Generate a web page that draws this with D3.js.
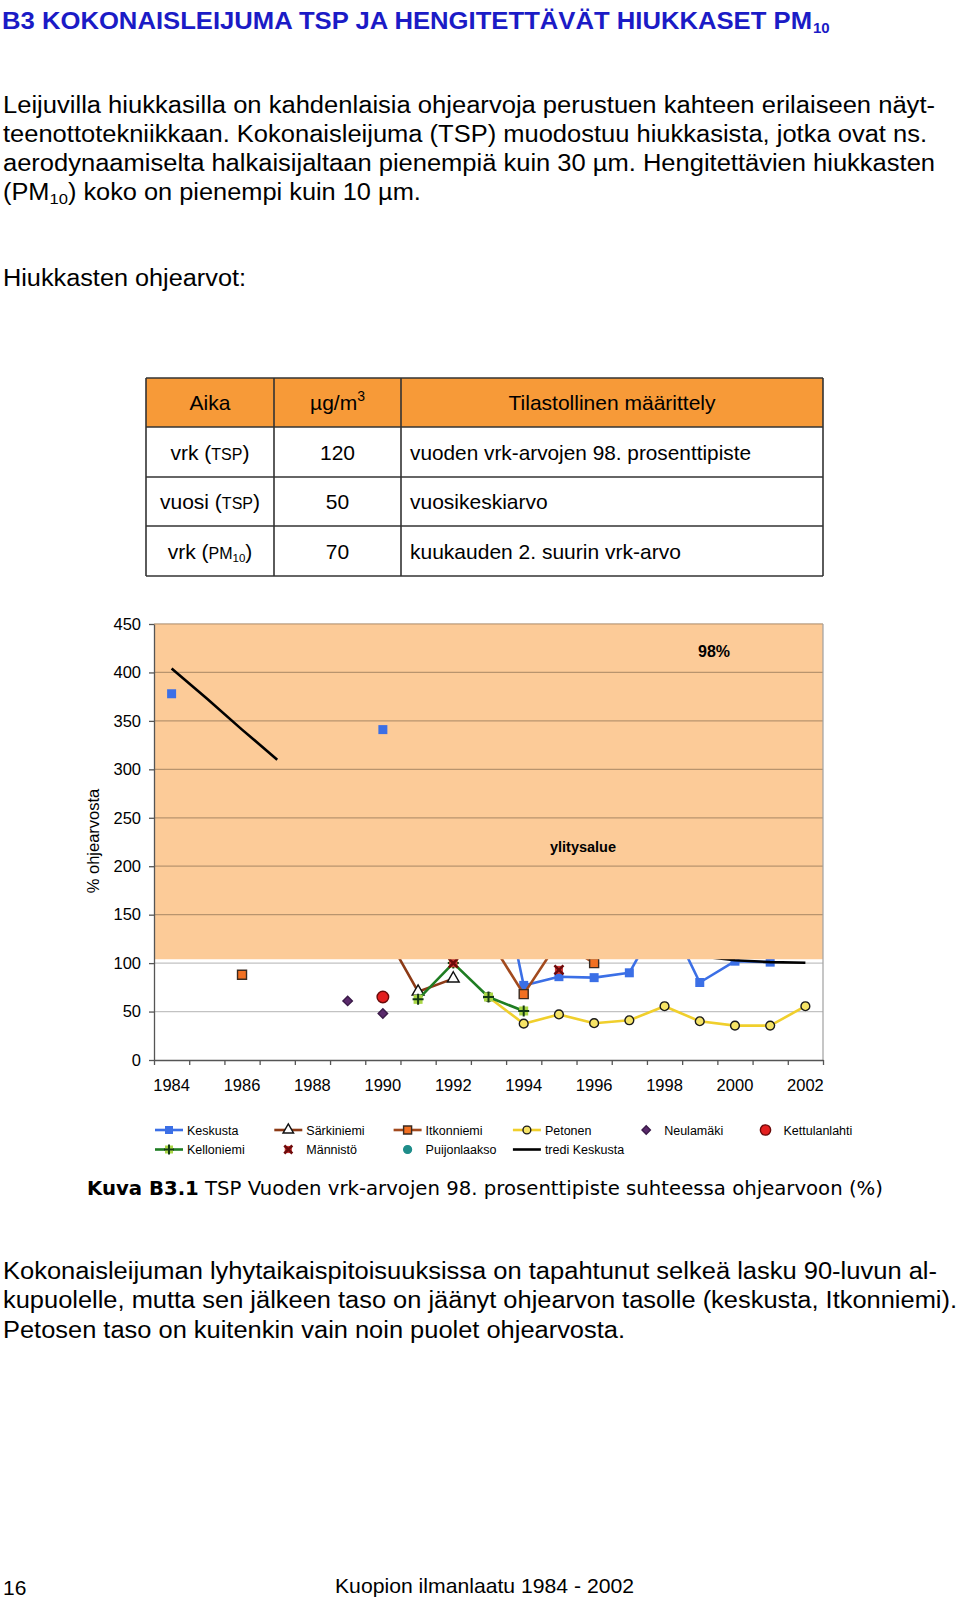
<!DOCTYPE html>
<html><head><meta charset="utf-8">
<script src="https://cdn.jsdelivr.net/npm/d3@7/dist/d3.min.js"></script>
<style>
body{margin:0;background:#fff}
svg{display:block}
text{font-family:"Liberation Sans",Arial,Helvetica,sans-serif;fill:#000}
</style>
</head><body>
<svg id="c" width="960" height="1602"></svg>
<script>
// ---------- data ----------
const years = [1984,1985,1986,1987,1988,1989,1990,1991,1992,1993,1994,1995,1996,1997,1998,1999,2000,2001,2002];
const yearLabels = ["1984","1986","1988","1990","1992","1994","1996","1998","2000","2002"];
const yTicks = [0,50,100,150,200,250,300,350,400,450];
const keskusta      = [378,null,null,null,null,null,341,null,null,250,77,86,85,90,155,80,102,101,null];
const sarkiniemi    = [null,null,null,null,null,null,135,70.5,84,null,null,null,null,null,null,null,null,null,null];
const itkonniemi    = [null,null,88,null,null,null,null,null,null,126,68,123,100,null,null,null,null,null,null];
const petonen       = [null,null,null,null,null,null,null,null,null,65,37.5,47,38,41,55.5,40,35.5,35.5,55.5];
const neulamaki     = [null,null,null,null,null,61,48,null,null,null,null,null,null,null,null,null,null,null,null];
const kettulanlahti = [null,null,null,null,null,null,65,null,null,null,null,null,null,null,null,null,null,null,null];
const kelloniemi    = [null,null,null,null,null,null,null,62.6,100,65,50.6,null,null,null,null,null,null,null,null];
const mannisto      = [null,null,null,null,null,null,null,null,100,null,null,93,null,null,null,null,null,null,null];
const puijonlaakso  = [null,null,null,null,null,null,null,null,null,null,null,null,null,null,null,null,null,null,null];
const trendKeskusta = [404,373,341,310,282,256,232,210,190,172,157,144,133,123,115,107,103,101,100.4];
const trendYearsOnTop = [1984,1985,1986,1987];
const exceedFrom = 104; // lower edge of the "ylitysalue" shading (% of guideline)

const seriesNames = ["Keskusta","Särkiniemi","Itkonniemi","Petonen","Neulamäki","Kettulanlahti","Kelloniemi","Männistö","Puijonlaakso","tredi Keskusta"];
const seriesValues = [keskusta,sarkiniemi,itkonniemi,petonen,neulamaki,kettulanlahti,kelloniemi,mannisto,puijonlaakso,trendKeskusta];

const tableHead = ["Aika","µg/m","Tilastollinen määrittely"];
const tablePeriod = [["vrk","TSP",""],["vuosi","TSP",""],["vrk","PM","10"]];
const tableValue = ["120","50","70"];
const tableDef = ["vuoden vrk-arvojen 98. prosenttipiste","vuosikeskiarvo","kuukauden 2. suurin vrk-arvo"];

// ---------- styles ----------
const styles = {
  "Keskusta":      {line:"#3b6fe6", marker:"square", fill:"#3b6fe6", stroke:"#3b6fe6"},
  "Särkiniemi":    {line:"#8c3a16", marker:"triangle", fill:"#ffffff", stroke:"#111"},
  "Itkonniemi":    {line:"#a24a1e", marker:"square", fill:"#f27022", stroke:"#3a2a20"},
  "Petonen":       {line:"#f0cf2c", marker:"circle", fill:"#f6e467", stroke:"#1a1a1a"},
  "Neulamäki":     {line:null, marker:"diamond", fill:"#5a2a6c", stroke:"#3a1a48"},
  "Kettulanlahti": {line:null, marker:"bigcircle", fill:"#e41f1f", stroke:"#6a0a0a"},
  "Kelloniemi":    {line:"#1f7d22", marker:"plus", fill:"#a9d645", stroke:"#143a14"},
  "Männistö":      {line:null, marker:"cross", fill:"#d23a3a", stroke:"#6e0b0b"},
  "Puijonlaakso":  {line:null, marker:"circle", fill:"#1f8d8a", stroke:"#1f8d8a"},
  "tredi Keskusta":{line:"#000000", marker:null}
};

const svg = d3.select("#c");

function fitGroup(g, textSel, x0, y0, width) {
  const w = textSel.node().getComputedTextLength();
  g.attr("transform", `translate(${x0},${y0}) scale(${width / w},1)`);
}

// ---------- title & text ----------
svg.append("text").attr("x",2).attr("y",29)
  .attr("font-size",24).attr("font-weight","bold").style("fill","#1b1bc6")
  .attr("textLength",810).attr("lengthAdjust","spacingAndGlyphs")
  .text("B3 KOKONAISLEIJUMA TSP JA HENGITETTÄVÄT HIUKKASET PM");
svg.append("text").attr("x",813).attr("y",33)
  .attr("font-size",15).attr("font-weight","bold").style("fill","#1b1bc6").text("10");

const para = [
  {t:"Leijuvilla hiukkasilla on kahdenlaisia ohjearvoja perustuen kahteen erilaiseen näyt-", y:113, w:932},
  {t:"teenottotekniikkaan. Kokonaisleijuma (TSP) muodostuu hiukkasista, jotka ovat ns.", y:142, w:924},
  {t:"aerodynaamiselta halkaisijaltaan pienempiä kuin 30 µm. Hengitettävien hiukkasten", y:171, w:932},
  {t:"Hiukkasten ohjearvot:", y:286, w:243}
];
para.forEach(p => svg.append("text").attr("x",3).attr("y",p.y).attr("font-size",23)
  .attr("textLength",p.w).attr("lengthAdjust","spacingAndGlyphs").text(p.t));
const l4g = svg.append("g");
const l4 = l4g.append("text").attr("x",0).attr("y",0).attr("font-size",23);
l4.append("tspan").text("(PM");
l4.append("tspan").attr("font-size",15).attr("dy",4).text("10");
l4.append("tspan").attr("dy",-4).text(") koko on pienempi kuin 10 µm.");
fitGroup(l4g, l4, 3, 200, 418);

// ---------- table ----------
const colX = [146,274,401,823];
const rowY = [378,427,477,526,576];
const tg = svg.append("g");
tg.append("rect").attr("x",colX[0]).attr("y",rowY[0]).attr("width",colX[3]-colX[0]).attr("height",rowY[1]-rowY[0]).attr("fill","#f79a38");
rowY.forEach(yy => tg.append("line").attr("x1",colX[0]).attr("x2",colX[3]).attr("y1",yy).attr("y2",yy).attr("stroke","#333").attr("stroke-width",1.6));
colX.forEach(xx => tg.append("line").attr("x1",xx).attr("x2",xx).attr("y1",rowY[0]).attr("y2",rowY[4]).attr("stroke","#333").attr("stroke-width",1.6));
const fs = 21;
tg.append("text").attr("x",(colX[0]+colX[1])/2).attr("y",410).attr("text-anchor","middle").attr("font-size",fs).text(tableHead[0]);
const hu = tg.append("text").attr("x",(colX[1]+colX[2])/2).attr("y",410).attr("text-anchor","middle").attr("font-size",fs);
hu.append("tspan").text(tableHead[1]);
hu.append("tspan").attr("font-size",14).attr("dy",-9).text("3");
tg.append("text").attr("x",(colX[2]+colX[3])/2).attr("y",410).attr("text-anchor","middle").attr("font-size",fs).text(tableHead[2]);
tablePeriod.forEach((p,i) => {
  const yy = (rowY[i+1]+rowY[i+2])/2 + 7.5;
  const t = tg.append("text").attr("x",(colX[0]+colX[1])/2).attr("y",yy).attr("text-anchor","middle").attr("font-size",fs);
  t.append("tspan").text(p[0]+" (");
  t.append("tspan").attr("font-size",16).text(p[1]);
  if (p[2]) t.append("tspan").attr("font-size",11.5).attr("dy",3).text(p[2]);
  t.append("tspan").attr("dy",p[2]?-3:0).text(")");
  tg.append("text").attr("x",(colX[1]+colX[2])/2).attr("y",yy).attr("text-anchor","middle").attr("font-size",fs).text(tableValue[i]);
  tg.append("text").attr("x",colX[2]+9).attr("y",yy).attr("font-size",fs)
    .attr("textLength", i===0 ? 341 : null).attr("lengthAdjust","spacingAndGlyphs").text(tableDef[i]);
});

// ---------- chart ----------
const plot = {left:154, right:823, top:624, bottom:1060};
const x = d3.scaleBand().domain(years).range([plot.left, plot.right]).paddingInner(0).paddingOuter(0);
const xi = d3.scaleLinear().domain([0, years.length]).range([plot.left, plot.right]);
const y = d3.scaleLinear().domain([0,450]).range([plot.bottom, plot.top]);
const cx = yr => x(yr) + x.bandwidth()/2;

const ch = svg.append("g");
ch.append("g").selectAll("line").data(yTicks.filter(d=>d>0)).join("line")
  .attr("x1",plot.left).attr("x2",plot.right).attr("y1",d=>y(d)).attr("y2",d=>y(d))
  .attr("stroke","#c2c2c2").attr("stroke-width",1.2);

function markerPath(type, s) {
  switch(type){
    case "square": return d3.symbol(d3.symbolSquare, s*s)();
    case "circle": return d3.symbol(d3.symbolCircle, s*s*0.75)();
    case "bigcircle": return d3.symbol(d3.symbolCircle, s*s*1.3)();
    case "triangle": return d3.symbol(d3.symbolTriangle, s*s*0.75)();
    case "diamond": return d3.symbol(d3.symbolSquare, s*s*0.55)();
    default: return d3.symbol(d3.symbolSquare, s*s)();
  }
}
function drawMarker(g, type, st, px, py, s) {
  if (!type) return;
  const mg = g.append("g").attr("transform",`translate(${px},${py})`);
  if (type === "plus") {
    mg.append("path").attr("d",d3.symbol(d3.symbolSquare, s*s)()).attr("fill",st.fill);
    mg.append("path").attr("d",`M${-s/2-1},0H${s/2+1}M0,${-s/2-1}V${s/2+1}`).attr("stroke",st.stroke).attr("stroke-width",2);
  } else if (type === "cross") {
    mg.append("path").attr("d",d3.symbol(d3.symbolSquare, s*s*0.8)()).attr("fill",st.fill);
    const h = s/2;
    mg.append("path").attr("d",`M${-h},${-h}L${h},${h}M${-h},${h}L${h},${-h}`).attr("stroke",st.stroke).attr("stroke-width",2.6);
  } else {
    mg.append("path").attr("d",markerPath(type,s))
      .attr("transform", type==="diamond" ? "rotate(45)" : null)
      .attr("fill",st.fill).attr("stroke",st.stroke).attr("stroke-width",type==="square"&&st.fill===st.stroke?0:1.4);
  }
}

const lineGen = d3.line().defined(d=>d.v!==null).x(d=>cx(d.yr)).y(d=>y(d.v));
const under = ch.append("g");
seriesNames.forEach((name,i) => {
  const st = styles[name];
  const pts = years.map((yr,k)=>({yr, v:seriesValues[i][k]}));
  if (st.line) under.append("path").datum(pts).attr("d",lineGen).attr("fill","none")
    .attr("stroke",st.line).attr("stroke-width",2.6).attr("stroke-linejoin","round");
  pts.filter(d=>d.v!==null).forEach(d => drawMarker(under, st.marker, st, cx(d.yr), y(d.v), 9));
});

// exceedance area
ch.append("rect").attr("x",plot.left).attr("y",plot.top).attr("width",plot.right-plot.left)
  .attr("height",y(exceedFrom)-plot.top).attr("fill","#fccb98");
ch.append("g").selectAll("line").data(yTicks.filter(d=>d>exceedFrom)).join("line")
  .attr("x1",plot.left).attr("x2",plot.right).attr("y1",d=>y(d)).attr("y2",d=>y(d))
  .attr("stroke","#b8946e").attr("stroke-width",1.2);
ch.append("line").attr("x1",plot.right).attr("x2",plot.right).attr("y1",plot.top).attr("y2",plot.bottom).attr("stroke","#a0a0a0").attr("stroke-width",1.2);

// elements visible above the shading: isolated Keskusta points and early trend segment
const topG = ch.append("g");
const kPts = years.map((yr,k)=>({yr, v:keskusta[k], prev:k>0?keskusta[k-1]:null, next:k<years.length-1?keskusta[k+1]:null}));
kPts.filter(d=>d.v!==null && d.prev===null && d.next===null)
  .forEach(d => drawMarker(topG, "square", styles["Keskusta"], cx(d.yr), y(d.v), 9));
topG.append("path").datum(years.map((yr,k)=>({yr, v: trendYearsOnTop.includes(yr)?trendKeskusta[k]:null})))
  .attr("d",lineGen).attr("fill","none").attr("stroke","#000").attr("stroke-width",2.6);

ch.append("text").attr("x",714).attr("y",657).attr("text-anchor","middle").attr("font-size",16).attr("font-weight","bold").text("98%");
ch.append("text").attr("x",583).attr("y",852).attr("text-anchor","middle").attr("font-size",14.5).attr("font-weight","bold").text("ylitysalue");

// axes
const yAx = ch.append("g").attr("transform",`translate(${plot.left},0)`)
  .call(d3.axisLeft(y).tickValues(yTicks).tickSize(5).tickPadding(8).tickSizeOuter(0));
yAx.selectAll("text").attr("font-size",16.5).style("font-family","Liberation Sans, Arial, sans-serif").style("fill","#000");
yAx.selectAll("line,path").attr("stroke","#555").attr("stroke-width",1.3);

const xTk = ch.append("g").attr("transform",`translate(0,${plot.bottom})`)
  .call(d3.axisBottom(xi).tickValues(d3.range(0,years.length+1)).tickSize(5).tickFormat(()=>"").tickSizeOuter(0));
xTk.selectAll("line,path").attr("stroke","#555").attr("stroke-width",1.3);
const xLb = ch.append("g").attr("transform",`translate(0,${plot.bottom})`)
  .call(d3.axisBottom(x).tickValues(yearLabels.map(Number)).tickSize(0).tickPadding(19));
xLb.select("path").remove();
xLb.selectAll("text").attr("font-size",16.5).style("font-family","Liberation Sans, Arial, sans-serif").style("fill","#000");

ch.append("text").attr("transform","translate(99,841) rotate(-90)").attr("text-anchor","middle").attr("font-size",16.5).text("% ohjearvosta");

// legend
const legRows = [[0,1,2,3,4,5],[6,7,8,9]];
const lg = svg.append("g");
legRows.forEach((row,ri) => {
  const ly = 1130 + ri*19.5;
  row.forEach((si,ci) => {
    const name = seriesNames[si], st = styles[name];
    const x0 = 155 + ci*119.3;
    if (st.line) {
      lg.append("line").attr("x1",x0).attr("x2",x0+28).attr("y1",ly).attr("y2",ly).attr("stroke",st.line).attr("stroke-width",2.6);
    }
    drawMarker(lg, st.marker, st, x0+14, ly, 8);
    lg.append("text").attr("x",x0+32).attr("y",ly+4.5).attr("font-size",12.5).text(name);
  });
});

// caption
const cap = svg.append("text").attr("x",87).attr("y",1195).attr("font-size",19)
  .style("font-family","'DejaVu Sans', sans-serif").attr("textLength",796).attr("lengthAdjust","spacingAndGlyphs");
cap.append("tspan").attr("font-weight","bold").text("Kuva B3.1");
cap.append("tspan").text(" TSP Vuoden vrk-arvojen 98. prosenttipiste suhteessa ohjearvoon (%)");

const para2 = [
  {t:"Kokonaisleijuman lyhytaikaispitoisuuksissa on tapahtunut selkeä lasku 90-luvun al-", y:1279, w:934},
  {t:"kupuolelle, mutta sen jälkeen taso on jäänyt ohjearvon tasolle (keskusta, Itkonniemi).", y:1308, w:954},
  {t:"Petosen taso on kuitenkin vain noin puolet ohjearvosta.", y:1338, w:622}
];
para2.forEach(p => svg.append("text").attr("x",3).attr("y",p.y).attr("font-size",23)
  .attr("textLength",p.w).attr("lengthAdjust","spacingAndGlyphs").text(p.t));

svg.append("text").attr("x",3).attr("y",1595).attr("font-size",21).text("16");
svg.append("text").attr("x",335).attr("y",1593).attr("font-size",21)
  .attr("textLength",299).attr("lengthAdjust","spacingAndGlyphs").text("Kuopion ilmanlaatu 1984 - 2002");
</script>
</body></html>
